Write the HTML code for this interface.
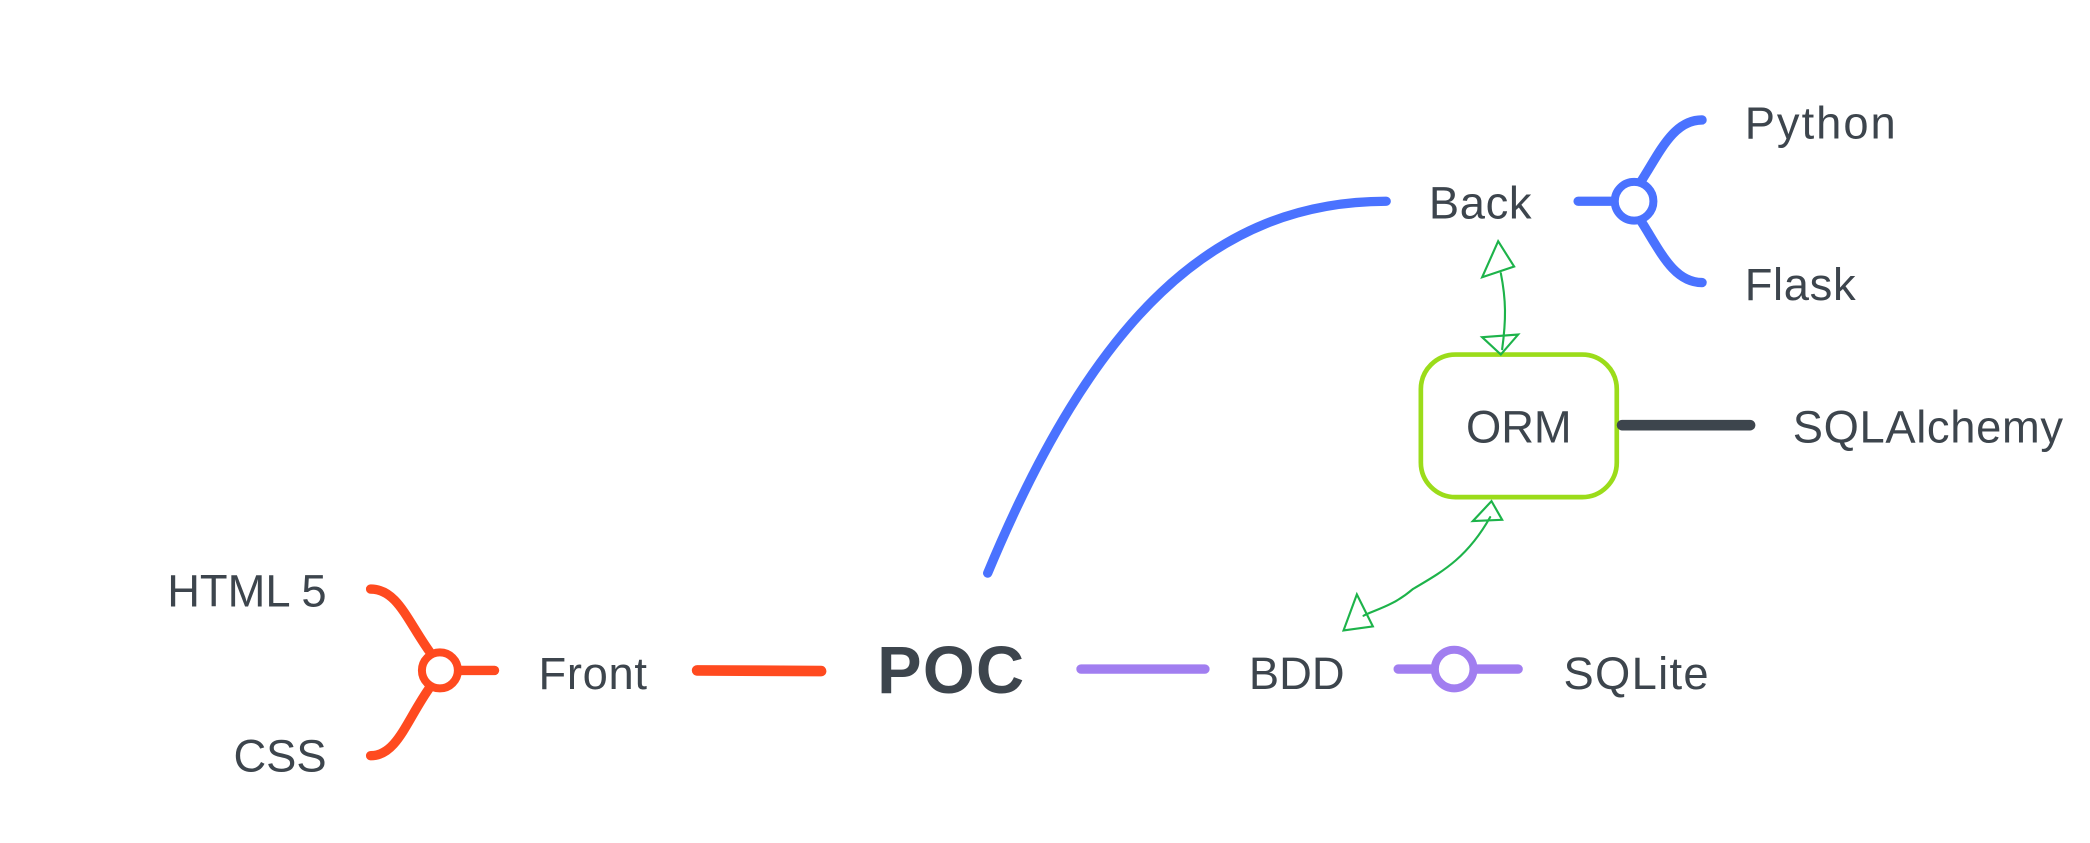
<!DOCTYPE html>
<html><head><meta charset="utf-8"><style>
html,body{margin:0;padding:0;background:#fff;width:2090px;height:843px;overflow:hidden}
svg{display:block}
text{font-family:"Liberation Sans",sans-serif;fill:#3d454d}
</style></head><body>
<svg width="2090" height="843" viewBox="0 0 1568 632.5" xmlns="http://www.w3.org/2000/svg">
<rect width="1568" height="632.5" fill="#fff"/>
<g fill="none" stroke-linecap="round">
<!-- front -->
<line x1="523" y1="503" x2="616" y2="503.5" stroke="#ff4a1f" stroke-width="8"/>
<line x1="345" y1="503" x2="371" y2="503" stroke="#ff4a1f" stroke-width="7"/>
<path d="M278,442 C298,442 305,465 323,490" stroke="#ff4a1f" stroke-width="7"/>
<path d="M278,567 C298,567 305,540 323,515" stroke="#ff4a1f" stroke-width="7"/>
<circle cx="330" cy="503" r="13.5" fill="#fff" stroke="#ff4a1f" stroke-width="6"/>
<!-- bdd -->
<line x1="811" y1="502" x2="904" y2="502" stroke="#a17ef0" stroke-width="7"/>
<line x1="1049" y1="502" x2="1139" y2="502" stroke="#a17ef0" stroke-width="7"/>
<circle cx="1091" cy="502" r="14.5" fill="#fff" stroke="#a17ef0" stroke-width="6"/>
<!-- back -->
<path d="M741,430 C820,240 910,151 1040,151" stroke="#4a72ff" stroke-width="7"/>
<line x1="1184" y1="151" x2="1212" y2="151" stroke="#4a72ff" stroke-width="7"/>
<path d="M1230,138 C1245,115 1255,90 1277,90" stroke="#4a72ff" stroke-width="7"/>
<path d="M1230,164 C1245,187 1255,212 1277,212" stroke="#4a72ff" stroke-width="7"/>
<circle cx="1226" cy="151" r="14.5" fill="#fff" stroke="#4a72ff" stroke-width="6"/>
<!-- orm -->
<rect x="1066" y="266" width="147" height="107" rx="26" fill="#fff" stroke="#9bdc1a" stroke-width="3.5"/>
<line x1="1217" y1="319" x2="1313" y2="319" stroke="#3d454d" stroke-width="8"/>
<!-- green arrows -->
<path d="M1126,205 C1130,225 1130,240 1127,262" stroke="#1db34a" stroke-width="1.6"/>
<path d="M1124,181 L1136,200 L1112,208 Z" stroke="#1db34a" stroke-width="1.6"/>
<path d="M1112,253 L1139,251 L1126,266 Z" stroke="#1db34a" stroke-width="1.6"/>
<path d="M1118,388 C1100,420 1080,430 1060,442 C1045,455 1030,458 1023,462" stroke="#1db34a" stroke-width="1.6"/>
<path d="M1119,376 L1127,390 L1105,391 Z" stroke="#1db34a" stroke-width="1.6"/>
<path d="M1018,446 L1008,473 L1030,470 Z" stroke="#1db34a" stroke-width="1.6"/>
</g>
<text x="658" y="520" font-size="50" font-weight="bold" letter-spacing="1">POC</text>
<text x="404" y="517" font-size="34" letter-spacing="0.5">Front</text>
<text x="245" y="455" font-size="34" text-anchor="end">HTML 5</text>
<text x="245" y="579" font-size="34" text-anchor="end">CSS</text>
<text x="937" y="517" font-size="34">BDD</text>
<text x="1173" y="517" font-size="34" letter-spacing="1">SQLite</text>
<text x="1072" y="164" font-size="34" letter-spacing="0.5">Back</text>
<text x="1309" y="104" font-size="34" letter-spacing="1.5">Python</text>
<text x="1309" y="225" font-size="34" letter-spacing="0.5">Flask</text>
<text x="1139.5" y="332" font-size="34" text-anchor="middle">ORM</text>
<text x="1345" y="332" font-size="34" letter-spacing="0.5">SQLAlchemy</text>
</svg>
</body></html>
